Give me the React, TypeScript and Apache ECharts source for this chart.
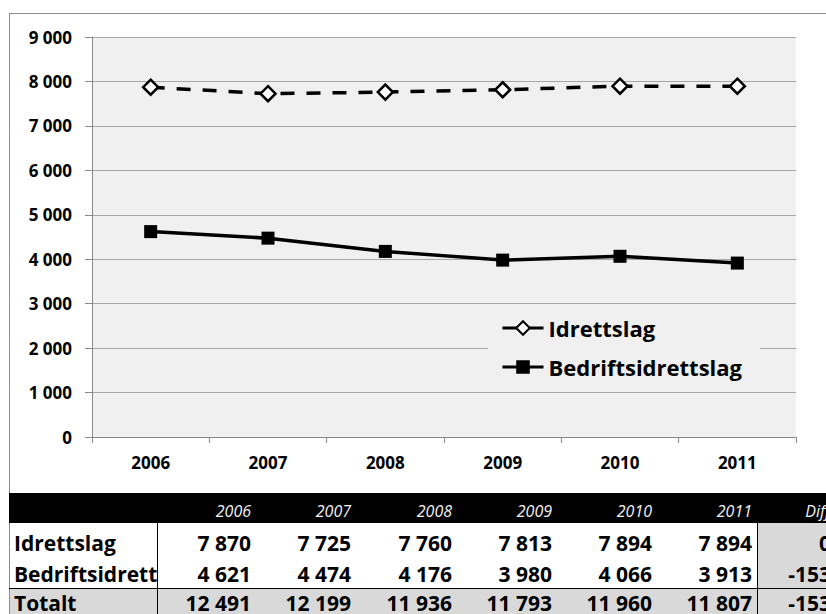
import React, { useEffect, useRef } from "react";
import * as echarts from "echarts";

const years = ["2006", "2007", "2008", "2009", "2010", "2011"];
const idrettslag = [7870, 7725, 7760, 7813, 7894, 7894];
const bedriftsidrettslag = [4621, 4474, 4176, 3980, 4066, 3913];
const totalt = [12491, 12199, 11936, 11793, 11960, 11807];
const diffs = [0, -153, -153];
const rowLabels = ["Idrettslag", "Bedriftsidrettslag", "Totalt"];
const diffHeader = "Diff";

const FONT = "'Open Sans', 'DejaVu Sans', sans-serif";

const fmt = (n: number) => String(n).replace(/\B(?=(\d{3})+(?!\d))/g, " ");

export default function App() {
  const ref = useRef<HTMLDivElement>(null);

  useEffect(() => {
    if (!ref.current) return;
    const chart = echarts.init(ref.current, null, { renderer: "svg" });

    // table layout
    const colRight = [251, 351, 452, 552, 652, 752];
    const diffRight = 831;
    const headerTop = 493;
    const row1Top = 523;
    const totTop = 588;
    const rowCenters = [543, 574, 603];
    const tableRows = [idrettslag, bedriftsidrettslag, totalt];

    const txt = (
      text: string,
      x: number,
      y: number,
      opts: { size: number; italic?: boolean; color?: string; align?: string; weight?: string }
    ) => ({
      type: "text",
      z: 10,
      style: {
        text,
        x,
        y,
        fill: opts.color || "#000",
        fontSize: opts.size,
        fontFamily: FONT,
        fontWeight: opts.weight || "bold",
        fontStyle: opts.italic ? "italic" : "normal",
        align: opts.align || "right",
        textAlign: opts.align || "right",
        verticalAlign: "middle",
        textVerticalAlign: "middle",
      },
    });

    const graphics: any[] = [];
    // chart frame
    graphics.push({
      type: "line",
      z: 10,
      shape: { x1: 9.5, y1: 13, x2: 9.5, y2: 614 },
      style: { stroke: "#8c8c8c", lineWidth: 1 },
    });
    graphics.push({
      type: "line",
      z: 10,
      shape: { x1: 9, y1: 13.5, x2: 826, y2: 13.5 },
      style: { stroke: "#8c8c8c", lineWidth: 1 },
    });
    // table backgrounds
    graphics.push({
      type: "rect",
      z: 10,
      shape: { x: 10, y: row1Top, width: 747, height: totTop - row1Top },
      style: { fill: "#ffffff" },
    });
    graphics.push({
      type: "rect",
      z: 10,
      shape: { x: 757, y: row1Top, width: 80, height: 614 - row1Top },
      style: { fill: "#d9d9d9" },
    });
    graphics.push({
      type: "rect",
      z: 10,
      shape: { x: 10, y: totTop, width: 820, height: 614 - totTop },
      style: { fill: "#d9d9d9" },
    });
    // row labels (first column)
    rowLabels.forEach((l, i) => {
      graphics.push(txt(l, 14, rowCenters[i], { size: 21, align: "left" }));
    });
    // cover overflow of the first column
    graphics.push({
      type: "rect",
      z: 10,
      shape: { x: 158, y: row1Top, width: 599, height: totTop - row1Top },
      style: { fill: "#ffffff" },
    });
    graphics.push({
      type: "rect",
      z: 10,
      shape: { x: 158, y: totTop + 1, width: 599, height: 614 - totTop },
      style: { fill: "#d9d9d9" },
    });
    // header
    graphics.push({
      type: "rect",
      z: 10,
      shape: { x: 9, y: headerTop, width: 817, height: row1Top - headerTop },
      style: { fill: "#000000" },
    });
    years.forEach((y, i) => {
      graphics.push(txt(y, colRight[i], 511, { size: 16, italic: true, color: "#f2f2f2", weight: "normal" }));
    });
    graphics.push(txt(diffHeader, diffRight - 1, 511, { size: 16, italic: true, color: "#f2f2f2", weight: "normal" }));
    // values
    tableRows.forEach((row, r) => {
      row.forEach((v, c) => {
        graphics.push(txt(fmt(v), colRight[c], rowCenters[r], { size: 21 }));
      });
      graphics.push(txt(fmt(diffs[r]), diffRight, rowCenters[r], { size: 21 }));
    });
    // table lines
    graphics.push({
      type: "line",
      z: 11,
      shape: { x1: 157.5, y1: row1Top, x2: 157.5, y2: 614 },
      style: { stroke: "#000", lineWidth: 1 },
    });
    graphics.push({
      type: "line",
      z: 11,
      shape: { x1: 757.5, y1: row1Top, x2: 757.5, y2: 614 },
      style: { stroke: "#000", lineWidth: 1 },
    });
    graphics.push({
      type: "line",
      z: 11,
      shape: { x1: 9, y1: totTop + 0.5, x2: 826, y2: totTop + 0.5 },
      style: { stroke: "#000", lineWidth: 1 },
    });

    chart.setOption({
      animation: false,
      backgroundColor: "#ffffff",
      grid: {
        left: 92,
        top: 37,
        right: 30,
        bottom: 177,
        show: true,
        backgroundColor: "#f0f0f0",
        borderWidth: 0,
      },
      legend: {
        orient: "vertical",
        left: 488,
        top: 309,
        padding: [8, 18, 8, 13],
        backgroundColor: "#f0f0f0",
        itemWidth: 41,
        itemHeight: 17,
        itemGap: 17,
        lineStyle: { type: "solid", width: 3, color: "#000" },
        textStyle: { fontSize: 22, fontWeight: "bold", fontFamily: FONT, color: "#000" },
        data: ["Idrettslag", "Bedriftsidrettslag"],
      },
      xAxis: {
        type: "category",
        data: years,
        boundaryGap: true,
        axisLine: { show: true, lineStyle: { color: "#888888", width: 1 } },
        axisTick: { show: true, length: 6, lineStyle: { color: "#888888" } },
        axisLabel: {
          margin: 17,
          fontSize: 17,
          fontWeight: "bold",
          fontFamily: FONT,
          color: "#000",
        },
        splitLine: { show: false },
      },
      yAxis: {
        type: "value",
        min: 0,
        max: 9000,
        interval: 1000,
        axisLine: { show: true, lineStyle: { color: "#888888", width: 1 } },
        axisTick: { show: true, length: 7, lineStyle: { color: "#888888" } },
        axisLabel: {
          margin: 20,
          fontSize: 17,
          fontWeight: "bold",
          fontFamily: FONT,
          color: "#000",
          formatter: (v: number) => fmt(v),
        },
        splitLine: { show: true, lineStyle: { color: "#a6a6a6", width: 1 } },
      },
      series: [
        {
          name: "Idrettslag",
          type: "line",
          data: idrettslag,
          symbol: "diamond",
          symbolSize: 15,
          itemStyle: { color: "#ffffff", borderColor: "#000000", borderWidth: 2.5 },
          lineStyle: { color: "#000000", width: 3.5, type: [14, 12] },
          z: 3,
        },
        {
          name: "Bedriftsidrettslag",
          type: "line",
          data: bedriftsidrettslag,
          symbol: "rect",
          symbolSize: 13,
          itemStyle: { color: "#000000" },
          lineStyle: { color: "#000000", width: 3.5 },
          z: 3,
        },
      ],
      graphic: graphics,
    });

    return () => chart.dispose();
  }, []);

  return (
    <div
      ref={ref}
      style={{ position: "fixed", left: 0, top: 0, width: 826, height: 614, background: "#fff" }}
    />
  );
}
